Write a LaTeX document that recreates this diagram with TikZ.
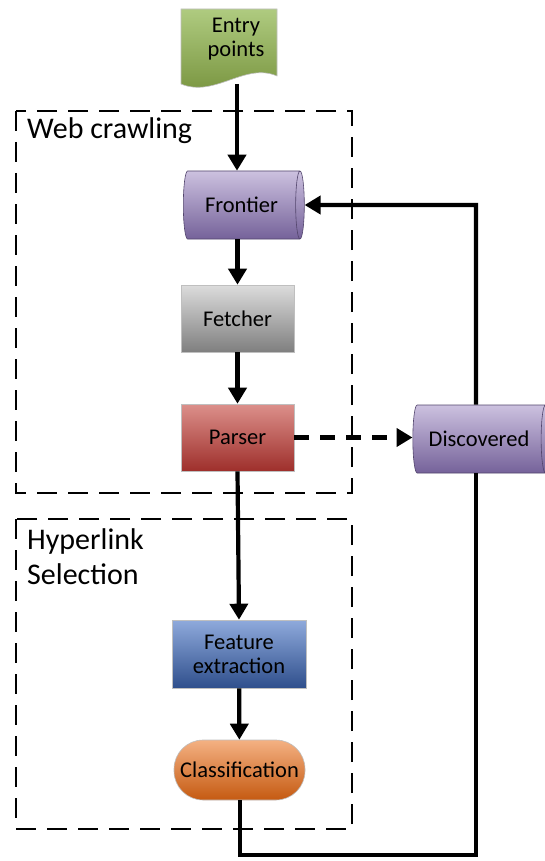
\documentclass[tikz,border=0pt]{standalone}
\usepackage{fontspec}
\setmainfont{Carlito}
\usetikzlibrary{arrows.meta,shapes.geometric}
\definecolor{grnA}{HTML}{AFCB80}
\definecolor{grnB}{HTML}{76923C}
\definecolor{purA}{HTML}{CCC1DF}
\definecolor{purB}{HTML}{75629A}
\definecolor{gryA}{HTML}{DCDCDC}
\definecolor{gryB}{HTML}{7F7F7F}
\definecolor{redA}{HTML}{DC908B}
\definecolor{redB}{HTML}{9E2F2B}
\definecolor{bluA}{HTML}{8FAADC}
\definecolor{bluB}{HTML}{2F4F8C}
\definecolor{orgA}{HTML}{F4B183}
\definecolor{orgB}{HTML}{C55A11}
\begin{document}
\begin{tikzpicture}[x=1pt,y=-1pt,
  nodefont/.style={font=\fontsize{22.5}{24}\selectfont},
  proc/.style={nodefont,draw=black!25,line width=0.6pt,inner sep=0pt,align=center},
  cyl/.style={proc,draw=purB!70!black,cylinder,shape aspect=0.55,top color=purA,bottom color=purB},
  flow/.style={line width=4.2pt,-{Triangle[width=18pt,length=16pt]}},
  dflow/.style={flow,dash pattern=on 15pt off 11pt},
  link/.style={line width=4.2pt},
  group/.style={line width=2.8pt,dash pattern=on 20pt off 11pt},
  grouplbl/.style={font=\fontsize{30}{35}\selectfont,anchor=north west,align=left,inner sep=0pt}]
\useasboundingbox (0,0) rectangle (545,861);
% group boxes
\draw[group] (16,111) rectangle (352,493);
\draw[group] (16,519) rectangle (352,829);
\node[grouplbl] (wc) at (27,117) {Web crawling};
\node[grouplbl] (hs) at (27,528) {Hyperlink\\Selection};
% entry points (document shape)
\draw[black!25,line width=0.6pt,top color=grnA,bottom color=grnB]
  (181,9) -- (277,9) -- (277,76) .. controls (245,62) and (215,98) .. (181,84) -- cycle;
\node[nodefont,align=center,inner sep=0pt] (entry) at (236,39) {Entry\\points};
\coordinate (entryb) at (237,84);
% nodes
\node[cyl,minimum height=121pt,minimum width=68pt] (front) at (241.5,205) {Frontier};
\node[proc,top color=gryA,bottom color=gryB,minimum width=113pt,minimum height=67pt] (fetch) at (237.5,318.5) {Fetcher};
\node[proc,top color=redA,bottom color=redB,minimum width=113pt,minimum height=67pt] (parse) at (237.5,437.5) {Parser};
\node[cyl,minimum height=137pt,minimum width=68pt] (disc) at (479,439) {Discovered};
\node[proc,top color=bluA,bottom color=bluB,minimum width=134pt,minimum height=68pt] (feat) at (239,654) {Feature\\extraction};
\node[proc,top color=orgA,bottom color=orgB,minimum width=131pt,minimum height=60pt,rounded corners=29pt] (cls) at (239.5,770) {Classification};
% connectors
\draw[flow] (entryb) -- (front.north -| entryb);
\draw[flow] (front.south -| fetch.north) -- (fetch.north);
\draw[flow] (fetch) -- (parse);
\draw[dflow] (parse.east) -- (disc.west |- parse.east);
\draw[flow] (parse.south) -- (feat.north);
\draw[flow] (feat) -- (cls);
\coordinate (c1) at (476,205);
\draw[flow] (disc.north -| c1) -- (c1) -- (front.east);
\coordinate (c2) at (476,855);
\coordinate (c3) at (240,855);
\draw[link] (disc.south -| c2) -- (c2) -- (c3) -- (cls.south -| c3);
\end{tikzpicture}
\end{document}
